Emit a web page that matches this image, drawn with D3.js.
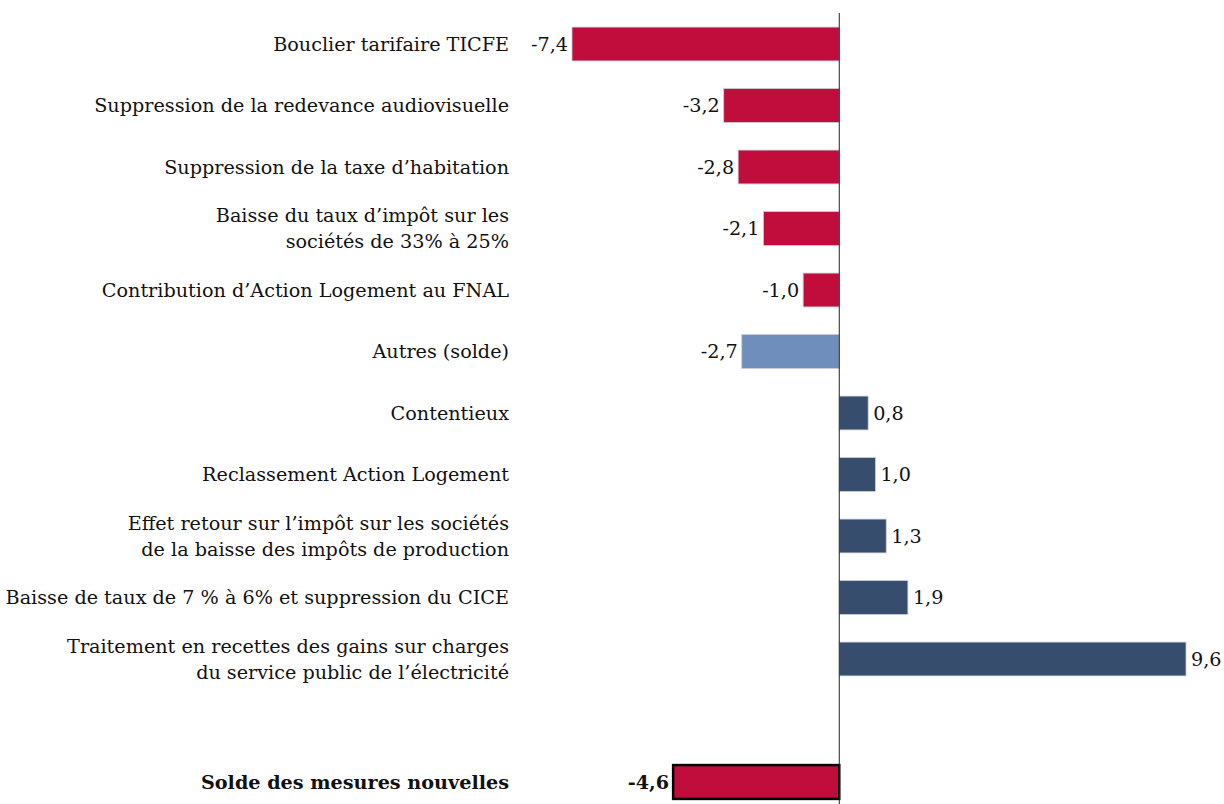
<html>
<head>
  <meta charset="utf-8">
  <style>
    body { margin: 0; background: white; }
    svg { display: block; }
    text { font-family: "DejaVu Serif", "Liberation Serif", serif; fill: #111; }
  </style>
</head>
<body>
  <svg id="chart"></svg>
  <script src="https://cdn.jsdelivr.net/npm/d3@7/dist/d3.min.js"></script>
  <script>
    // data
    var categories = [
      "Bouclier tarifaire TICFE",
      "Suppression de la redevance audiovisuelle",
      "Suppression de la taxe d\u2019habitation",
      "Baisse du taux d\u2019imp\u00f4t sur les|soci\u00e9t\u00e9s de 33% \u00e0 25%",
      "Contribution d\u2019Action Logement au FNAL",
      "Autres (solde)",
      "Contentieux",
      "Reclassement Action Logement",
      "Effet retour sur l\u2019imp\u00f4t sur les soci\u00e9t\u00e9s|de la baisse des imp\u00f4ts de production",
      "Baisse de taux de 7 % \u00e0 6% et suppression du CICE",
      "Traitement en recettes des gains sur charges|du service public de l\u2019\u00e9lectricit\u00e9 ",
      "Solde des mesures nouvelles"
    ];
    var values = [-7.4, -3.2, -2.8, -2.1, -1.0, -2.7, 0.8, 1.0, 1.3, 1.9, 9.6, -4.6];
    var groups = ["baisse", "baisse", "baisse", "baisse", "baisse", "autres",
                  "hausse", "hausse", "hausse", "hausse", "hausse", "solde"];

    var width = 1224, height = 804;
    var svg = d3.select("#chart").attr("width", width).attr("height", height);

    var rows = categories.map(function(c, i) {
      return { key: "r" + i, label: c, value: values[i], group: groups[i] };
    });
    // empty slot before the total
    var domain = rows.map(function(d) { return d.key; });
    domain.splice(domain.length - 1, 0, "gap");

    var x = d3.scaleLinear().domain([-7.4, 9.6]).range([572, 1186]);
    var y = d3.scaleBand().domain(domain).range([13.25, 812.75]).paddingInner(0.45).paddingOuter(0.225);

    var color = d3.scaleOrdinal()
      .domain(["baisse", "autres", "hausse", "solde"])
      .range(["#c00d3c", "#6f8ebb", "#374d6e", "#c00d3c"]);

    var fmt = function(v) { return d3.format(".1f")(v).replace(".", ",").replace("\u2212", "-"); };

    // bars
    svg.append("g").selectAll("rect")
      .data(rows)
      .join("rect")
      .attr("x", function(d) { return x(Math.min(0, d.value)); })
      .attr("y", function(d) { return y(d.key); })
      .attr("width", function(d) { return Math.abs(x(d.value) - x(0)); })
      .attr("height", y.bandwidth())
      .attr("fill", function(d) { return color(d.group); })
      .attr("stroke", function(d) { return d.group == "solde" ? "#000" : "#c9ccd4"; })
      .attr("stroke-width", function(d) { return d.group == "solde" ? 2.5 : 0.8; });

    // zero line
    svg.append("line")
      .attr("x1", x(0)).attr("x2", x(0))
      .attr("y1", 13).attr("y2", height)
      .attr("stroke", "#222").attr("stroke-width", 1);

    // category labels
    var labels = svg.append("g").selectAll("text")
      .data(rows)
      .join("text")
      .attr("x", 509)
      .attr("text-anchor", "end")
      .attr("font-size", 19.2)
      .attr("font-weight", function(d) { return d.group == "solde" ? "bold" : "normal"; });
    labels.each(function(d) {
      var lines = d.label.split("|");
      var cy = y(d.key) + y.bandwidth() / 2;
      var t = d3.select(this);
      lines.forEach(function(line, j) {
        t.append("tspan")
          .attr("x", 509)
          .attr("y", cy + (j - (lines.length - 1) / 2) * 26)
          .attr("dy", "0.35em")
          .text(line);
      });
    });

    // value labels
    svg.append("g").selectAll("text")
      .data(rows)
      .join("text")
      .attr("x", function(d) { return d.value < 0 ? x(d.value) - 4 : x(d.value) + 5; })
      .attr("y", function(d) { return y(d.key) + y.bandwidth() / 2; })
      .attr("dy", "0.35em")
      .attr("text-anchor", function(d) { return d.value < 0 ? "end" : "start"; })
      .attr("font-size", 19.2)
      .attr("font-weight", function(d) { return d.group == "solde" ? "bold" : "normal"; })
      .text(function(d) { return fmt(d.value); });
  </script>
</body>
</html>
